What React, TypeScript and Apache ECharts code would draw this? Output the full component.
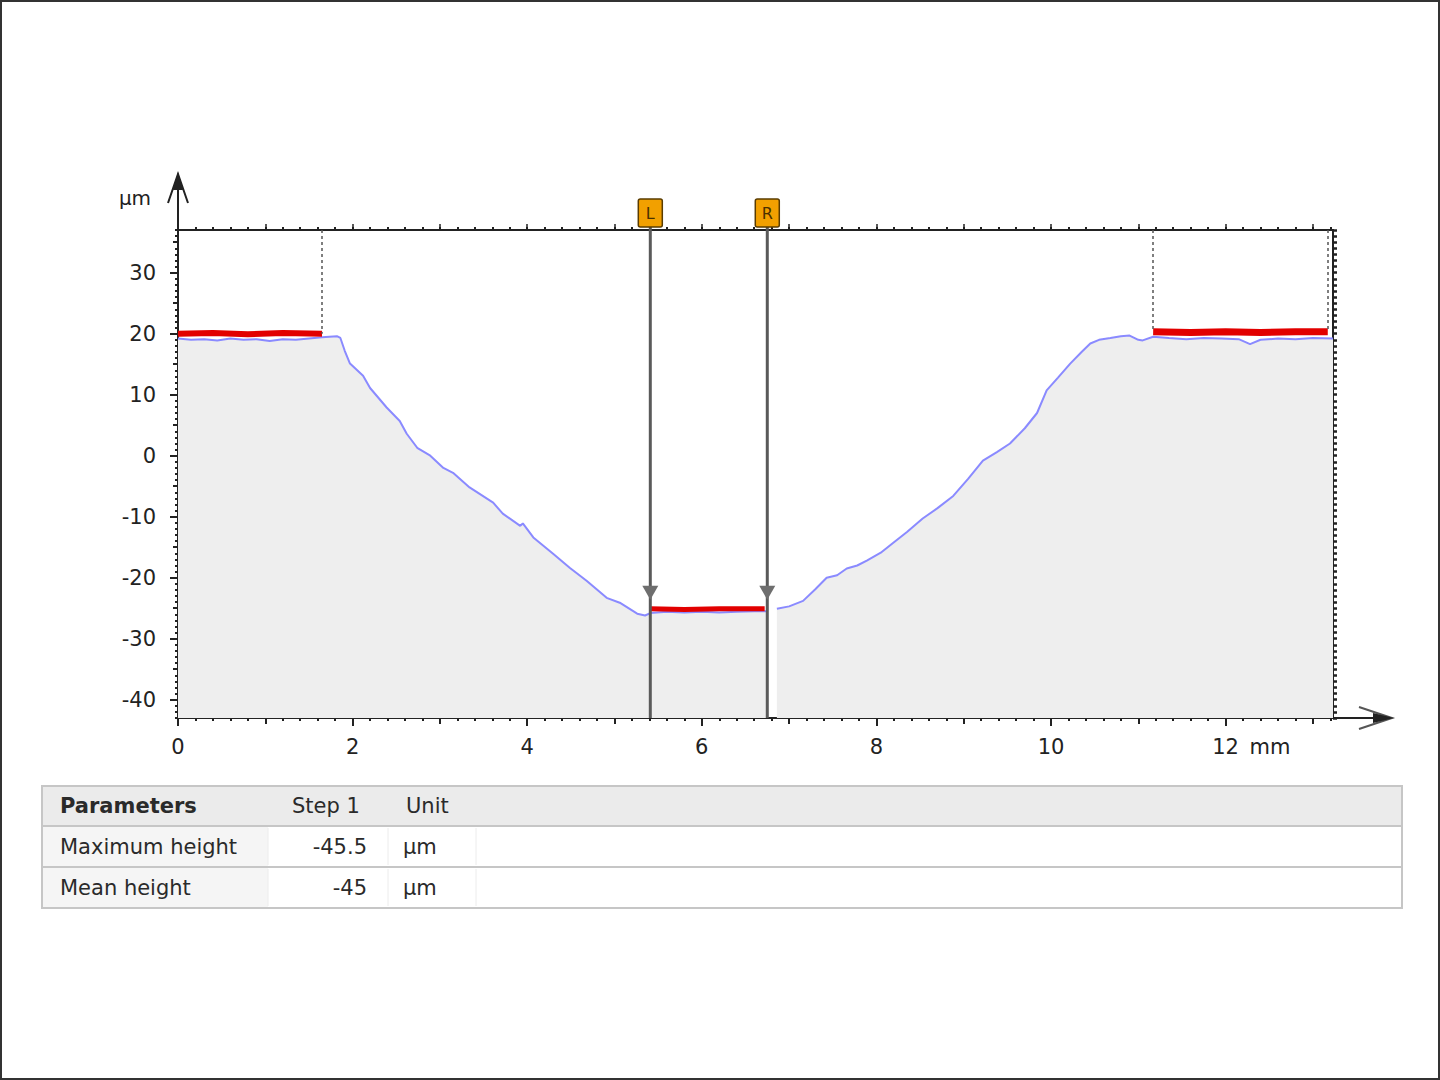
import React, { useEffect, useRef } from "react";
import * as echarts from "echarts";

// ---- data ----
const profileX = [
  0, 0.15, 0.3, 0.45, 0.6, 0.75, 0.9, 1.05, 1.2, 1.35, 1.5, 1.65, 1.82, 1.86, 1.91, 1.97, 2.12, 2.2, 2.39,
  2.54, 2.62, 2.74, 2.89, 3.04, 3.15, 3.34, 3.61, 3.72, 3.92, 3.95, 4.07, 4.3, 4.49, 4.68, 4.91, 5.06,
  5.26, 5.35, 5.41, 5.6, 5.8, 6.0, 6.2, 6.4, 6.6, 6.75, 6.8,
  6.86, 7.0, 7.16, 7.3, 7.43, 7.55, 7.66, 7.78, 7.89, 8.05, 8.19, 8.35, 8.53, 8.7, 8.88, 9.05, 9.22, 9.38,
  9.53, 9.7, 9.84, 9.95, 10.08, 10.22, 10.35, 10.45, 10.55, 10.68, 10.8, 10.9, 11.0, 11.05, 11.17, 11.35,
  11.55, 11.75, 11.95, 12.15, 12.28, 12.4, 12.6, 12.8, 13.0, 13.23,
];
const profileY: (number | null)[] = [
  19.2, 19.0, 19.1, 18.9, 19.2, 19.0, 19.1, 18.8, 19.1, 19.0, 19.2, 19.4, 19.6, 19.3, 17.2, 15.1, 13.1, 11.1, 7.9,
  5.7, 3.6, 1.3, 0.0, -2.0, -2.8, -5.2, -7.7, -9.5, -11.5, -11.1, -13.4, -16.1, -18.4, -20.5, -23.3, -24.1,
  -25.9, -26.2, -25.8, -25.6, -25.7, -25.6, -25.7, -25.6, -25.5, -25.5, null,
  -25.1, -24.7, -23.8, -21.9, -20.0, -19.6, -18.5, -18.0, -17.2, -15.9, -14.3, -12.5, -10.3, -8.6, -6.6, -3.8, -0.8, 0.6,
  2.0, 4.5, 7.0, 10.7, 12.8, 15.1, 17.0, 18.4, 19.0, 19.3, 19.6, 19.7, 19.0, 18.9, 19.5, 19.3,
  19.1, 19.3, 19.2, 19.1, 18.3, 19.0, 19.2, 19.1, 19.3, 19.2,
];

const redLeftX = [0, 0.4, 0.8, 1.2, 1.65];
const redLeftY = [20.0, 20.1, 19.9, 20.1, 20.0];
const redMidX = [5.41, 5.8, 6.2, 6.72];
const redMidY = [-25.1, -25.2, -25.1, -25.1];
const redRightX = [11.17, 11.6, 12.0, 12.4, 12.8, 13.17];
const redRightY = [20.3, 20.2, 20.3, 20.2, 20.3, 20.3];

const edgeX = [1.65, 11.17, 13.17];
const edgeY = [20.0, 20.3, 20.3];

const cursorX = [5.41, 6.75];
const cursorNames = ["L", "R"];
const cursorArrowY = -23.6;

const xLabelTicks = [0, 2, 4, 6, 8, 10, 12];
const xOddTicks = [1, 3, 5, 7, 9, 11, 13];
const yLabelTicks = [-40, -30, -20, -10, 0, 10, 20, 30];
const yMidTicks = [-35, -25, -15, -5, 5, 15, 25, 35];

const tableHeader = ["Parameters", "Step 1", "Unit"];
const tableRows = [
  ["Maximum height", "-45.5", "µm"],
  ["Mean height", "-45", "µm"],
];

const XMIN = 0;
const XMAX = 13.23;
const YMIN = -43;
const YMAX = 37;

// layout
const GRID_LEFT = 178;
const GRID_TOP = 230;
const GRID_W = 1155;
const GRID_H = 488;
const FONT = "DejaVu Sans";
const INK = "#222";

const xSmallTicks: number[] = [];
for (let i = 0; i <= 66; i++) xSmallTicks.push(Math.round(i * 2) / 10);
const ySmallTicks: number[] = [];
for (let v = YMIN; v <= YMAX; v++) ySmallTicks.push(v);

export default function App() {
  const ref = useRef<HTMLDivElement>(null);

  useEffect(() => {
    if (!ref.current) return;
    const chart = echarts.init(ref.current, undefined, { renderer: "svg" });

    const hiddenLine = { show: false, onZero: false };
    const baseX = (extra: any) => ({
      type: "value",
      gridIndex: 0,
      min: XMIN,
      max: XMAX,
      splitLine: { show: false },
      axisLine: hiddenLine,
      axisLabel: { show: false },
      ...extra,
    });
    const baseY = (extra: any) => ({
      type: "value",
      gridIndex: 0,
      min: YMIN,
      max: YMAX,
      splitLine: { show: false },
      axisLine: hiddenLine,
      axisLabel: { show: false },
      ...extra,
    });
    const tickStyle = (w: number) => ({ color: INK, width: w });

    const option: any = {
      animation: false,
      backgroundColor: "#ffffff",
      grid: { left: GRID_LEFT, top: GRID_TOP, width: GRID_W, height: GRID_H, containLabel: false },
      xAxis: [
        baseX({
          position: "bottom",
          axisLine: { show: true, onZero: false, lineStyle: { color: INK, width: 2 } },
          axisTick: { show: true, customValues: xLabelTicks, length: 8, lineStyle: tickStyle(2) },
          axisLabel: {
            show: true,
            customValues: xLabelTicks,
            fontSize: 21,
            fontFamily: FONT,
            color: INK,
            margin: 18,
            formatter: (v: number) => String(v),
          },
        }),
        baseX({ position: "bottom", axisTick: { show: true, customValues: xOddTicks, length: 6, lineStyle: tickStyle(2) } }),
        baseX({ position: "bottom", axisTick: { show: true, customValues: xSmallTicks, length: 3, lineStyle: tickStyle(2) } }),
        baseX({
          position: "top",
          axisLine: { show: true, onZero: false, lineStyle: { color: INK, width: 2 } },
          axisTick: { show: true, customValues: xSmallTicks, length: 3, lineStyle: tickStyle(2) },
        }),
        baseX({ position: "top", axisTick: { show: true, customValues: xOddTicks.concat(xLabelTicks), length: 6, lineStyle: tickStyle(1.5) } }),
      ],
      yAxis: [
        baseY({
          position: "left",
          axisLine: { show: true, onZero: false, lineStyle: { color: INK, width: 2 } },
          axisTick: { show: true, customValues: yLabelTicks, length: 8, lineStyle: tickStyle(2) },
          axisLabel: {
            show: true,
            customValues: yLabelTicks,
            fontSize: 21,
            fontFamily: FONT,
            color: INK,
            margin: 22,
            formatter: (v: number) => String(v),
          },
        }),
        baseY({ position: "left", axisTick: { show: true, customValues: yMidTicks, length: 5, lineStyle: tickStyle(2) } }),
        baseY({ position: "left", axisTick: { show: true, customValues: ySmallTicks, length: 3, lineStyle: tickStyle(2) } }),
        baseY({
          position: "right",
          axisLine: { show: true, onZero: false, lineStyle: { color: INK, width: 2 } },
          axisTick: { show: true, customValues: ySmallTicks, length: 4, lineStyle: tickStyle(2.5) },
        }),
      ],
      series: [
        {
          name: "profile",
          type: "line",
          xAxisIndex: 0,
          yAxisIndex: 0,
          data: profileX.map((x, i) => [x, profileY[i]]),
          showSymbol: false,
          connectNulls: false,
          lineStyle: { color: "#8a8aff", width: 2 },
          areaStyle: { color: "#eeeeee", opacity: 1, origin: "start" },
          z: 2,
        },
        {
          name: "stepLeft",
          type: "line",
          data: redLeftX.map((x, i) => [x, redLeftY[i]]),
          showSymbol: false,
          lineStyle: { color: "#e20000", width: 6 },
          z: 4,
          markLine: {
            silent: true,
            symbol: ["none", "none"],
            label: { show: false },
            lineStyle: { color: "#555", width: 1.5, type: [3, 3] },
            data: edgeX.map((x, i) => [{ coord: [x, YMAX] }, { coord: [x, edgeY[i]] }]),
          },
        },
        {
          name: "stepMid",
          type: "line",
          data: redMidX.map((x, i) => [x, redMidY[i]]),
          showSymbol: false,
          lineStyle: { color: "#e20000", width: 5 },
          z: 4,
        },
        {
          name: "stepRight",
          type: "line",
          data: redRightX.map((x, i) => [x, redRightY[i]]),
          showSymbol: false,
          lineStyle: { color: "#e20000", width: 7 },
          z: 4,
        },
      ],
    };

    chart.setOption(option);

    const px = (x: number) => chart.convertToPixel({ xAxisIndex: 0 }, x) as number;
    const py = (y: number) => chart.convertToPixel({ yAxisIndex: 0 }, y) as number;

    const gLeft = px(XMIN);
    const gRight = px(XMAX);
    const gTop = py(YMAX);
    const gBottom = py(YMIN);

    const graphic: any[] = [];
    // outer frame
    graphic.push({
      type: "rect",
      shape: { x: 1, y: 1, width: 1438, height: 1078 },
      style: { fill: "none", stroke: "#333", lineWidth: 2 },
      silent: true,
    });
    // y axis arrow
    graphic.push({ type: "line", shape: { x1: gLeft, y1: gTop, x2: gLeft, y2: gTop - 54 }, style: { stroke: INK, lineWidth: 2 } });
    graphic.push({
      type: "polyline",
      shape: { points: [[gLeft - 10, gTop - 27], [gLeft, gTop - 56], [gLeft + 10, gTop - 27]] },
      style: { stroke: INK, lineWidth: 2, fill: "none" },
    });
    graphic.push({
      type: "polygon",
      shape: { points: [[gLeft, gTop - 58], [gLeft - 5, gTop - 40], [gLeft + 5, gTop - 40]] },
      style: { fill: INK },
    });
    // x axis arrow
    graphic.push({ type: "line", shape: { x1: gRight, y1: gBottom, x2: gRight + 57, y2: gBottom }, style: { stroke: INK, lineWidth: 2 } });
    graphic.push({
      type: "polyline",
      shape: { points: [[gRight + 26, gBottom - 11], [gRight + 59, gBottom], [gRight + 26, gBottom + 11]] },
      style: { stroke: "#555", lineWidth: 2, fill: "none" },
    });
    graphic.push({
      type: "polygon",
      shape: { points: [[gRight + 61, gBottom], [gRight + 40, gBottom - 5], [gRight + 40, gBottom + 5]] },
      style: { fill: INK },
    });
    // unit labels
    graphic.push({
      type: "text",
      x: 135,
      y: 198,
      style: { text: "µm", font: `20px '${FONT}'`, fill: INK, align: "center", verticalAlign: "middle" },
    });
    graphic.push({
      type: "text",
      x: px(12) + 24,
      y: gBottom + 29,
      style: { text: "mm", font: `21px '${FONT}'`, fill: INK, align: "left", verticalAlign: "middle" },
    });

    // cursors
    cursorX.forEach((cx, i) => {
      const x = px(cx);
      const ay = py(cursorArrowY);
      graphic.push({ type: "line", z: 10, shape: { x1: x, y1: gTop - 4, x2: x, y2: gBottom }, style: { stroke: "#5a5a5a", lineWidth: 3 } });
      graphic.push({
        type: "polygon",
        z: 10,
        shape: { points: [[x - 8, ay - 14], [x + 8, ay - 14], [x, ay]] },
        style: { fill: "#6e6e6e" },
      });
      graphic.push({
        type: "rect",
        z: 11,
        shape: { x: x - 12, y: gTop - 31, width: 24, height: 28, r: 2 },
        style: { fill: "#f2a000", stroke: "#5a3c00", lineWidth: 1.5 },
      });
      graphic.push({
        type: "text",
        z: 12,
        x: x,
        y: gTop - 17,
        style: { text: cursorNames[i], font: `16px '${FONT}'`, fill: "#4a3000", align: "center", verticalAlign: "middle" },
      });
    });

    // table
    const tX0 = 42;
    const tX1 = 1402;
    const rowTops = [786, 826, 867];
    const rowH = [40, 41, 41];
    const colX = [268, 388, 476];
    rowTops.forEach((top, r) => {
      graphic.push({
        type: "rect",
        shape: { x: tX0, y: top, width: tX1 - tX0, height: rowH[r] },
        style: { fill: r === 0 ? "#ebebeb" : "#ffffff", stroke: "#c6c6c6", lineWidth: 2 },
      });
      if (r > 0) {
        graphic.push({
          type: "rect",
          shape: { x: tX0 + 1, y: top + 1, width: colX[0] - tX0 - 1, height: rowH[r] - 2 },
          style: { fill: "#f5f5f5" },
        });
        colX.forEach((cx) => {
          graphic.push({
            type: "line",
            shape: { x1: cx, y1: top + 2, x2: cx, y2: top + rowH[r] - 2 },
            style: { stroke: "#ececec", lineWidth: 1 },
          });
        });
      }
    });
    const textStyle = (t: string, bold: boolean, align: string) => ({
      text: t,
      font: `${bold ? "bold " : ""}21px '${FONT}'`,
      fill: "#2a2a2a",
      align,
      verticalAlign: "middle",
    });
    graphic.push({ type: "text", x: 60, y: 806, style: textStyle(tableHeader[0], true, "left") });
    graphic.push({ type: "text", x: 292, y: 806, style: textStyle(tableHeader[1], false, "left") });
    graphic.push({ type: "text", x: 406, y: 806, style: textStyle(tableHeader[2], false, "left") });
    tableRows.forEach((row, r) => {
      const cy = rowTops[r + 1] + rowH[r + 1] / 2;
      graphic.push({ type: "text", x: 60, y: cy, style: textStyle(row[0], false, "left") });
      graphic.push({ type: "text", x: 367, y: cy, style: textStyle(row[1], false, "right") });
      graphic.push({ type: "text", x: 403, y: cy, style: textStyle(row[2], false, "left") });
    });

    chart.setOption({ graphic });

    return () => chart.dispose();
  }, []);

  return (
    <div
      ref={ref}
      style={{ position: "fixed", left: 0, top: 0, width: 1440, height: 1080, background: "#fff" }}
    />
  );
}
